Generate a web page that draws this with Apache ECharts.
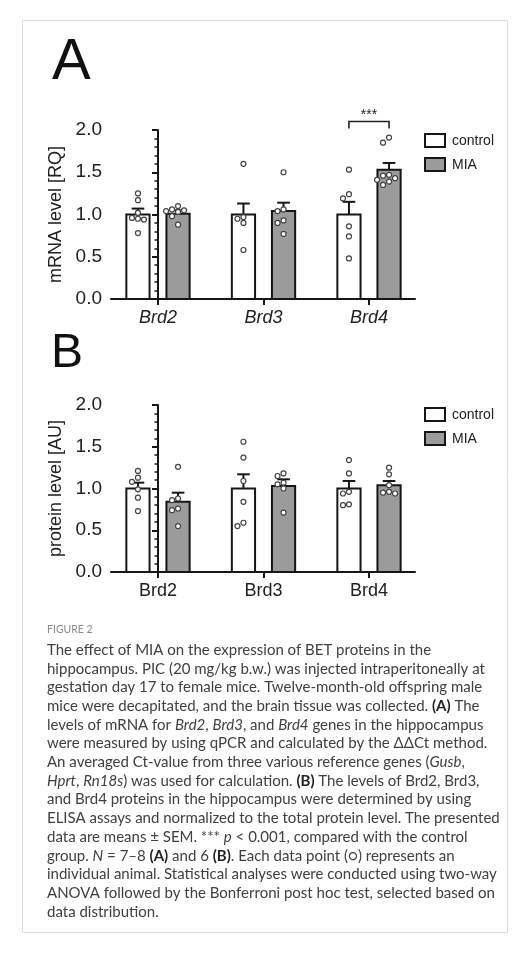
<!DOCTYPE html>
<html>
<head>
<meta charset="utf-8">
<script src="https://cdn.jsdelivr.net/npm/echarts@6/dist/echarts.min.js"></script>
<style>
  html, body { margin: 0; padding: 0; background: #fff; }
  #chart { width: 530px; height: 953px; }
</style>
</head>
<body>
<div id="chart"></div>
<script>
// ---- data -------------------------------------------------------------
const genes = ['Brd2', 'Brd3', 'Brd4'];
const yTickLabels = ['0.0', '0.5', '1.0', '1.5', '2.0'];
const groupNames = ['control', 'MIA'];

// A: mRNA level [RQ]
const mrnaControlMean = [1.00, 1.00, 1.00];
const mrnaControlSem  = [0.07, 0.13, 0.15];
const mrnaMiaMean     = [1.01, 1.04, 1.53];
const mrnaMiaSem      = [0.04, 0.10, 0.08];
const mrnaControlPoints = [
  [1.25, 1.17, 1.02, 0.96, 0.94, 0.95, 0.78],
  [1.60, 0.97, 0.95, 0.90, 0.58],
  [1.53, 1.24, 1.19, 0.86, 0.74, 0.48]
];
const mrnaMiaPoints = [
  [1.10, 1.06, 1.05, 1.03, 1.04, 0.98, 0.88],
  [1.50, 1.06, 1.04, 0.93, 0.90, 0.77],
  [1.91, 1.85, 1.47, 1.46, 1.43, 1.41, 1.39, 1.35]
];
const mrnaSignificance = [{ gene: 2, label: '***' }];

// B: protein level [AU]
const proteinControlMean = [1.00, 1.00, 1.00];
const proteinControlSem  = [0.07, 0.17, 0.09];
const proteinMiaMean     = [0.84, 1.03, 1.04];
const proteinMiaSem      = [0.11, 0.08, 0.05];
const proteinControlPoints = [
  [1.21, 1.13, 1.08, 0.99, 0.89, 0.73],
  [1.56, 1.37, 1.09, 0.84, 0.59, 0.55],
  [1.34, 1.18, 0.96, 0.94, 0.80, 0.81]
];
const proteinMiaPoints = [
  [1.26, 0.88, 0.86, 0.76, 0.74, 0.55],
  [1.18, 1.15, 1.07, 1.05, 1.00, 0.71],
  [1.25, 1.17, 1.04, 0.96, 0.95, 0.94]
];

// ---- styling ------------------------------------------------------------
const INK = '#161616';
const MIA_FILL = '#9b9b9b';
const FONT = 'Liberation Sans, Arial, sans-serif';
const GROUP_OFFSET = 0.19;   // bar centre offset from the gene tick, in category units
const BAR_W = 0.22;          // bar width, in category units
const CAP_W = 0.12;          // error-bar cap width, in category units

const chart = echarts.init(document.getElementById('chart'), null, { renderer: 'canvas' });

function xAxisFor(gridIndex, italic) {
  return {
    gridIndex, type: 'value', min: -0.4455, max: 2.436,
    axisLine: { show: true, onZero: false, lineStyle: { color: INK, width: 2 } },
    axisTick: { show: true, customValues: [0, 1, 2], length: 6, lineStyle: { color: INK, width: 2 } },
    axisLabel: {
      customValues: [0, 1, 2], margin: 10,
      formatter: v => genes[Math.round(v)],
      fontFamily: FONT, fontSize: 18, color: '#222', fontStyle: italic ? 'italic' : 'normal'
    },
    splitLine: { show: false }
  };
}

function yAxisFor(gridIndex, name) {
  return {
    gridIndex, type: 'value', min: 0, max: 2, interval: 0.5,
    name, nameLocation: 'middle', nameGap: 36,
    nameTextStyle: { fontFamily: FONT, fontSize: 18, color: '#222' },
    axisLine: { show: true, lineStyle: { color: INK, width: 2 } },
    axisTick: { show: true, length: 6, lineStyle: { color: INK, width: 2 } },
    minorTick: { show: true, splitNumber: 5, length: 3.5, lineStyle: { color: INK, width: 1.5 } },
    axisLabel: {
      margin: 9, fontFamily: FONT, fontSize: 19, color: '#222',
      formatter: v => yTickLabels[Math.round(v / 0.5)]
    },
    splitLine: { show: false }
  };
}

function barSeries(gridIndex, means, sems, offset, fill, name) {
  return {
    type: 'custom', name, xAxisIndex: gridIndex, yAxisIndex: gridIndex, clip: false, z: 2,
    data: means.map((m, i) => [i, m, sems[i]]),
    renderItem(params, api) {
      const x = api.value(0) + offset;
      const m = api.value(1), s = api.value(2);
      const base = api.coord([x, 0]);
      const top = api.coord([x, m]);
      const err = api.coord([x, m + s]);
      const w = api.size([BAR_W, 0])[0];
      const cap = api.size([CAP_W, 0])[0];
      return {
        type: 'group',
        children: [
          { type: 'rect', shape: { x: base[0] - w / 2, y: top[1], width: w, height: base[1] - top[1] },
            style: { fill, stroke: INK, lineWidth: 2 } },
          { type: 'line', shape: { x1: top[0], y1: top[1], x2: err[0], y2: err[1] },
            style: { stroke: INK, lineWidth: 2 } },
          { type: 'line', shape: { x1: err[0] - cap / 2, y1: err[1], x2: err[0] + cap / 2, y2: err[1] },
            style: { stroke: INK, lineWidth: 2 } }
        ]
      };
    }
  };
}

// individual animals, spread sideways where they would overlap
function pointSeries(gridIndex, groups, offset) {
  const STEP = 6, MIN_D = 5.6, R = 2.5;
  return {
    type: 'custom', xAxisIndex: gridIndex, yAxisIndex: gridIndex, clip: false, z: 4,
    data: groups.map((g, i) => [i]),
    renderItem(params, api) {
      const i = api.value(0);
      const x = i + offset;
      const placed = [];
      groups[i].slice().sort((a, b) => b - a).forEach(v => {
        const c = api.coord([x, v]);
        for (const k of [0, -1, 1, -2, 2, -3, 3]) {
          const px = c[0] + k * STEP;
          if (placed.every(p => Math.hypot(p[0] - px, p[1] - c[1]) >= MIN_D)) {
            placed.push([px, c[1]]);
            break;
          }
        }
      });
      return {
        type: 'group',
        children: placed.map(p => ({
          type: 'circle', shape: { cx: p[0], cy: p[1], r: R },
          style: { fill: '#fff', stroke: '#444', lineWidth: 1.2 }
        }))
      };
    }
  };
}

function significanceSeries(gridIndex, marks, pointsHigh) {
  return {
    type: 'custom', xAxisIndex: gridIndex, yAxisIndex: gridIndex, clip: false, z: 5,
    data: marks.map(m => [m.gene, Math.max(...pointsHigh[m.gene]) + 0.19]),
    renderItem(params, api) {
      const g = api.value(0), yv = api.value(1);
      const l = api.coord([g - GROUP_OFFSET, yv]);
      const r = api.coord([g + GROUP_OFFSET, yv]);
      return {
        type: 'group',
        children: [
          { type: 'polyline', shape: { points: [[l[0], l[1] + 7], l, r, [r[0], r[1] + 7]] },
            style: { stroke: '#222', lineWidth: 1.6, fill: null } },
          { type: 'text', style: { text: marks[params.dataIndex].label, x: (l[0] + r[0]) / 2, y: l[1] + 1,
            align: 'center', verticalAlign: 'bottom', fontFamily: FONT, fontSize: 14, fill: '#222' } }
        ]
      };
    }
  };
}

// ---- figure annotations -------------------------------------------------
function legend(top) {
  return groupNames.map((n, k) => ({
    type: 'group', x: 425, y: top + k * 24,
    children: [
      { type: 'rect', shape: { x: 0, y: 0, width: 20, height: 13 },
        style: { fill: k === 0 ? '#fff' : MIA_FILL, stroke: INK, lineWidth: 2 } },
      { type: 'text', style: { text: n, x: 27, y: 7, verticalAlign: 'middle',
        fontFamily: FONT, fontSize: 14, fill: '#222' } }
    ]
  }));
}

const captionLines = [
  'The effect of MIA on the expression of BET proteins in the',
  'hippocampus. PIC (20 mg/kg b.w.) was injected intraperitoneally at',
  'gestation day 17 to female mice. Twelve-month-old offspring male',
  'mice were decapitated, and the brain tissue was collected. {b|(A)} The',
  'levels of mRNA for {i|Brd2}, {i|Brd3}, and {i|Brd4} genes in the hippocampus',
  'were measured by using qPCR and calculated by the ΔΔCt method.',
  'An averaged Ct-value from three various reference genes ({i|Gusb},',
  '{i|Hprt}, {i|Rn18s}) was used for calculation. {b|(B)} The levels of Brd2, Brd3,',
  'and Brd4 proteins in the hippocampus were determined by using',
  'ELISA assays and normalized to the total protein level. The presented',
  'data are means ± SEM. *** {i|p} < 0.001, compared with the control',
  'group. {i|N} = 7–8 {b|(A)} and 6 {b|(B)}. Each data point (○) represents an',
  'individual animal. Statistical analyses were conducted using two-way',
  'ANOVA followed by the Bonferroni post hoc test, selected based on',
  'data distribution.'
];
const CAP_FONT = 'Lato, "Open Sans", sans-serif';
const CAP_SIZE = 15;
const CAP_INK = '#404040';
const captionGraphics = captionLines.map((t, i) => ({
  type: 'text', x: 47, y: 650 + i * 18.7,
  style: {
    text: t, verticalAlign: 'middle', fontFamily: CAP_FONT, fontSize: CAP_SIZE, fill: CAP_INK,
    rich: {
      i: { fontFamily: CAP_FONT, fontSize: CAP_SIZE, fontStyle: 'italic', fill: CAP_INK },
      b: { fontFamily: CAP_FONT, fontSize: CAP_SIZE, fontWeight: 'bold', fill: '#222' }
    }
  }
}));

chart.setOption({
  backgroundColor: '#fff',
  animation: false,
  grid: [
    { left: 111, top: 130, width: 304, height: 169 },
    { left: 111, top: 405, width: 304, height: 167 }
  ],
  xAxis: [xAxisFor(0, true), xAxisFor(1, false)],
  yAxis: [yAxisFor(0, 'mRNA level [RQ]'), yAxisFor(1, 'protein level [AU]')],
  series: [
    barSeries(0, mrnaControlMean, mrnaControlSem, -GROUP_OFFSET, '#fff', 'control'),
    barSeries(0, mrnaMiaMean, mrnaMiaSem, GROUP_OFFSET, MIA_FILL, 'MIA'),
    pointSeries(0, mrnaControlPoints, -GROUP_OFFSET),
    pointSeries(0, mrnaMiaPoints, GROUP_OFFSET),
    significanceSeries(0, mrnaSignificance, mrnaMiaPoints),
    barSeries(1, proteinControlMean, proteinControlSem, -GROUP_OFFSET, '#fff', 'control'),
    barSeries(1, proteinMiaMean, proteinMiaSem, GROUP_OFFSET, MIA_FILL, 'MIA'),
    pointSeries(1, proteinControlPoints, -GROUP_OFFSET),
    pointSeries(1, proteinMiaPoints, GROUP_OFFSET)
  ],
  graphic: [
    { type: 'rect', shape: { x: 22.5, y: 20.5, width: 485, height: 912 },
      style: { fill: null, stroke: '#dcdcdc', lineWidth: 1 }, silent: true },
    { type: 'text', x: 52, y: 63, style: { text: 'A', verticalAlign: 'middle', fontFamily: FONT, fontSize: 58, fill: '#111' } },
    { type: 'text', x: 51, y: 354, style: { text: 'B', verticalAlign: 'middle', fontFamily: FONT, fontSize: 48, fill: '#111' } },
    ...legend(134),
    ...legend(408),
    { type: 'text', x: 47, y: 630, style: { text: 'FIGURE 2', verticalAlign: 'middle', fontFamily: CAP_FONT, fontSize: 10.5, fill: '#8a8a8a' } },
    ...captionGraphics
  ]
});
</script>
</body>
</html>
